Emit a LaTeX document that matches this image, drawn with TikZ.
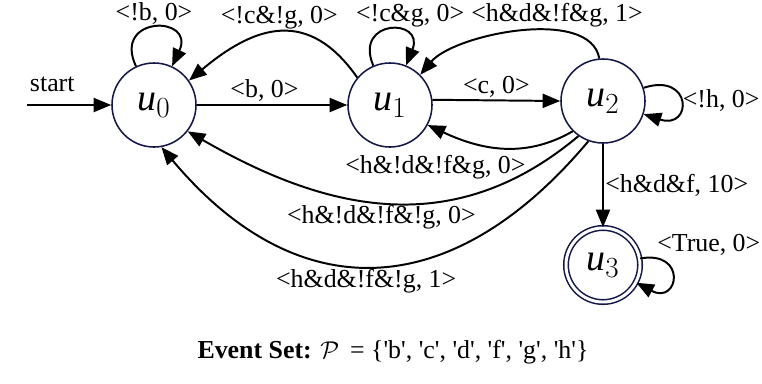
\documentclass[tikz,border=0pt]{standalone}
\usepackage{fontspec}
\setmainfont{Liberation Serif}
\usetikzlibrary{arrows.meta}
\DeclareMathSizes{27}{27}{22}{18}
\definecolor{statecol}{RGB}{20,24,72}
\tikzset{
  state/.style={circle,draw=statecol,line width=1.1pt,minimum size=2.1cm,inner sep=0pt,font=\fontsize{27}{30}\selectfont},
  accept/.style={state,double=white,double distance=2.1pt,minimum size=1.85cm},
  trans/.style={->,line width=1.4pt},
  lbl/.style={font=\fontsize{18.4}{20}\selectfont,inner sep=1.5pt}
}
\begin{document}
\begin{tikzpicture}[x=0.025cm,y=-0.025cm,>={Triangle[length=12.5pt,width=10pt]}]
\useasboundingbox (0,0) rectangle (762,383);
% states
\node[state] (u0) at (154,105) {$\mathit{u}_0$};
\node[state] (u1) at (390,105) {$\mathit{u}_1$};
\node[state] (u2) at (603,101) {$\mathit{u}_2$};
\node[accept] (u3) at (603,265) {$\mathit{u}_3$};
\coordinate (start) at (27,105);
% straight transitions
\draw[trans] (start) -- node[lbl,above=0.25cm,pos=0.3] {start} (u0);
\draw[trans] (u0) -- node[lbl,above,pos=0.45] {<b, 0>} (u1);
\draw[trans] (u1.7) -- node[lbl,above] {<c, 0>} (u2.180);
\draw[trans] (u2) -- node[lbl,right,inner sep=1pt] {<h\&d\&f, 10>} (u3);
% self loops
\draw[trans] (u0) to[out=115,in=65,looseness=4] node[lbl,above] {<!b, 0>} (u0);
\draw[trans] (u1) to[out=113,in=68,looseness=4] node[lbl,above,xshift=0.52cm] {<!c\&g, 0>} (u1);
\draw[trans] (u2) to[out=18,in=-18,looseness=5] node[lbl,right,inner sep=1pt] {<!h, 0>} (u2);
\draw[trans] (u3) to[out=10,in=-28,looseness=5] node[lbl,pos=0.12,above right,inner sep=1pt] {<True, 0>} (u3);
% arcs
\draw[trans] (u1.140) to[out=125,in=40,looseness=1.3] node[lbl,above] {<!c\&!g, 0>} (u0.35);
\draw[trans] (u2.95) to[out=100,in=50,looseness=0.75] node[lbl,above,pos=0.33] {<h\&d\&!f\&g, 1>} (u1.45);
\draw[trans] (u2.225) to[out=210,in=-25,looseness=1.0] node[lbl,below=0.6cm,pos=0.95] {<h\&!d\&!f\&g, 0>} (u1.-28);
\draw[trans] (u2.235) to[out=220,in=-30,looseness=1.06] node[lbl,below,pos=0.52] {<h\&!d\&!f\&!g, 0>} (u0.-38);
\draw[trans] (u2.250) to[out=230,in=-50,looseness=1.27] node[lbl,below,pos=0.52] {<h\&d\&!f\&!g, 1>} (u0.-80);
% event set
\node[lbl] (evset) at (393,352) {\textbf{Event Set:} $\mathcal{P}$ \,= \{\textquotesingle b\textquotesingle, \textquotesingle c\textquotesingle, \textquotesingle d\textquotesingle, \textquotesingle f\textquotesingle, \textquotesingle g\textquotesingle, \textquotesingle h\textquotesingle\}};
\end{tikzpicture}
\end{document}
